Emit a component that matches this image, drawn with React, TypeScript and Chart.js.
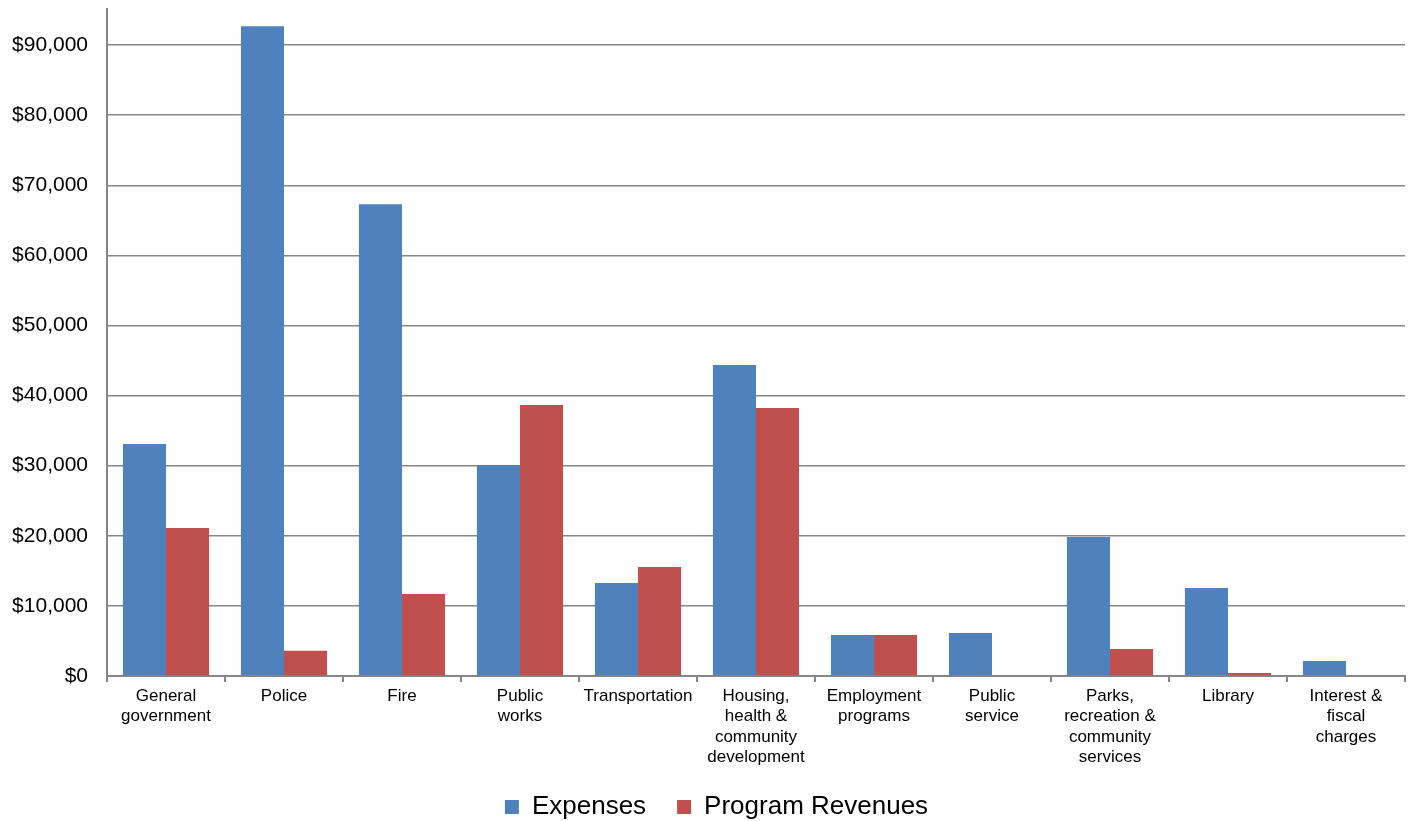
import React, { useEffect, useRef } from "react";
import { Chart, registerables } from "chart.js";

Chart.register(...registerables);

const categories: string[][] = [
  ["General", "government"],
  ["Police"],
  ["Fire"],
  ["Public", "works"],
  ["Transportation"],
  ["Housing,", "health &", "community", "development"],
  ["Employment", "programs"],
  ["Public", "service"],
  ["Parks,", "recreation &", "community", "services"],
  ["Library"],
  ["Interest &", "fiscal", "charges"],
];

const expenses: number[] = [33100, 92700, 67300, 30100, 13270, 44350, 5850, 6130, 19830, 12550, 2140];
const programRevenues: number[] = [21100, 3600, 11700, 38650, 15550, 38230, 5850, 0, 3850, 430, 0];

const yTickValues: number[] = [0, 10000, 20000, 30000, 40000, 50000, 60000, 70000, 80000, 90000];

const FONT = "'Liberation Sans', Arial, sans-serif";
const GRID = "#868686";

const layoutTweaks = {
  id: "layoutTweaks",
  afterLayout(chart: any) {
    if (chart.legend) {
      chart.legend.left += 14;
      chart.legend.right += 14;
    }
    const x = chart.scales.x;
    if (x) {
      x.bottom += 30;
      x.height += 30;
    }
  },
};

export default function App() {
  const canvasRef = useRef<HTMLCanvasElement | null>(null);

  useEffect(() => {
    if (!canvasRef.current) return;
    const chart = new Chart(canvasRef.current, {
      type: "bar",
      data: {
        labels: categories,
        datasets: [
          {
            label: "Expenses",
            data: expenses,
            backgroundColor: "#4F81BD",
            borderWidth: 0,
            categoryPercentage: 0.73,
            barPercentage: 1,
          },
          {
            label: "Program Revenues",
            data: programRevenues,
            backgroundColor: "#C0504D",
            borderWidth: 0,
            categoryPercentage: 0.73,
            barPercentage: 1,
          },
        ],
      },
      plugins: [layoutTweaks],
      options: {
        animation: false,
        responsive: true,
        maintainAspectRatio: false,
        layout: { padding: { top: 9, right: 6, left: 0, bottom: -9 } },
        plugins: {
          tooltip: { enabled: false },
          legend: {
            position: "bottom",
            labels: {
              font: { family: FONT, size: 26 },
              color: "#000",
              boxWidth: 14,
              boxHeight: 14,
              padding: 31,
            },
          },
        },
        scales: {
          x: {
            offset: true,
            afterFit: (scale: any) => {
              scale.height = 87;
            },
            grid: {
              offset: true,
              drawOnChartArea: false,
              drawTicks: true,
              tickLength: 6,
              color: GRID,
              lineWidth: 2,
            },
            border: { color: GRID, width: 2 },
            ticks: {
              font: { family: FONT, size: 17 },
              color: "#000",
              maxRotation: 0,
              autoSkip: false,
              padding: 4,
            },
          },
          y: {
            min: 0,
            max: 95150,
            afterBuildTicks: (scale: any) => {
              scale.ticks = yTickValues.map((v) => ({ value: v }));
            },
            afterFit: (scale: any) => {
              scale.width = 107;
              scale.paddingTop = 0;
              scale.paddingBottom = 0;
            },
            grid: {
              color: GRID,
              lineWidth: 1.5,
              drawTicks: false,
            },
            border: { color: GRID, width: 2 },
            ticks: {
              font: { family: FONT, size: 21 },
              color: "#000",
              padding: 19,
              callback: (v: any) => "$" + Number(v).toLocaleString("en-US"),
            },
          },
        },
      },
    });
    return () => chart.destroy();
  }, []);

  return (
    <div style={{ position: "fixed", left: 0, top: 0, width: 1411, height: 821, background: "#fff" }}>
      <canvas ref={canvasRef} />
    </div>
  );
}
